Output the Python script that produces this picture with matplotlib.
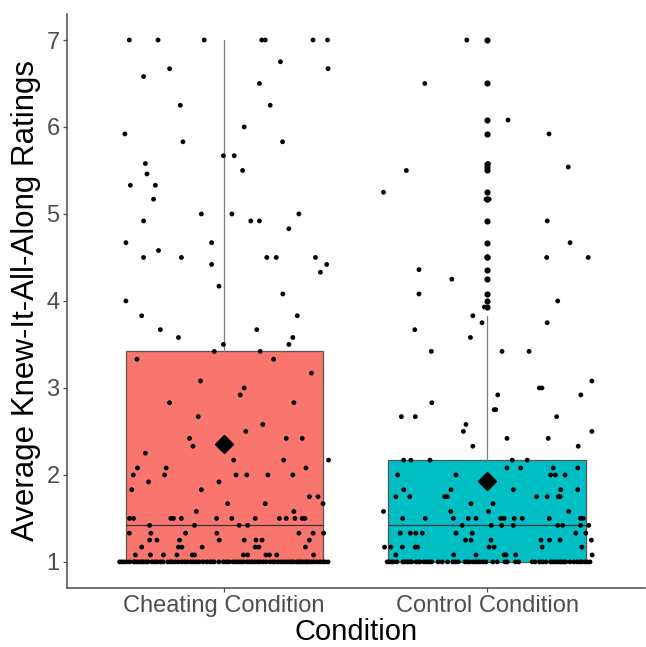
import numpy as np
import matplotlib
matplotlib.use("Agg")
import matplotlib.pyplot as plt

# Average ratings, grouped by rating level.
# Each level has the horizontal jitter offsets (in category units) of its points.
conditions = ["Cheating Condition", "Control Condition"]
box_colors = ["#F8766D", "#00BFC4"]

cheating_levels = [
    7.00, 6.75, 6.67, 6.58, 6.50, 6.25, 6.00, 5.92, 5.83, 5.67, 5.58, 5.50, 5.46, 5.33, 5.17,
    5.00, 4.92, 4.83, 4.67, 4.58, 4.50, 4.42, 4.33, 4.17, 4.08, 4.00, 3.83, 3.67, 3.58,
    3.50, 3.42, 3.33, 3.17, 3.08, 3.00, 2.92, 2.83, 2.67, 2.58, 2.50, 2.42, 2.33, 2.25,
    2.17, 2.08, 2.00, 1.92, 1.83, 1.75, 1.67, 1.58, 1.50, 1.42, 1.33, 1.25, 1.17, 1.08, 1.00,
]
cheating_offsets = [
    [-0.361, -0.252, -0.076, 0.143, 0.156, 0.338, 0.393],
    [0.214], [0.395, -0.208], [-0.307], [0.134], [-0.167, 0.175], [0.076], [-0.378],
    [-0.157, 0.222], [-0.003, 0.038], [-0.300], [0.070], [-0.294], [-0.357, -0.262], [-0.269],
    [-0.087, 0.029, 0.284], [-0.307, 0.101, 0.134], [0.246], [-0.374, -0.048], [-0.250],
    [-0.307, -0.163, 0.162, 0.198, 0.347], [0.390, -0.048], [0.366], [-0.020], [0.223],
    [-0.374], [-0.314, 0.278], [-0.243, 0.124], [-0.174, 0.261],
    [-0.003, 0.246], [-0.038, 0.137], [-0.332, 0.188], [0.332], [-0.090], [0.076], [0.061],
    [-0.208, 0.265], [-0.099], [0.147], [0.082], [-0.132, 0.236, 0.297], [-0.119], [-0.300],
    [0.036, 0.226, 0.397], [-0.330, -0.221, 0.311],
    [-0.346, -0.227, 0.045, 0.086, 0.166, 0.261],
    [-0.288, -0.020], [-0.352, -0.087], [0.324, 0.357], [0.013, 0.156, 0.376], [-0.106, 0.265],
    [-0.360, -0.345, -0.203, -0.193, -0.163, -0.029, 0.029, 0.118, 0.210, 0.236, 0.269, 0.297, 0.307],
    [-0.284, -0.113, 0.057, 0.089],
    [-0.361, -0.279, -0.147, -0.028, 0.284, 0.338, 0.378],
    [-0.284, -0.256, -0.170, -0.019, 0.076, 0.121, 0.144, 0.324],
    [-0.314, -0.174, -0.161, -0.084, 0.118, 0.132, 0.309],
    [-0.338, -0.281, -0.231, -0.180, -0.122, -0.113, 0.073, 0.089, 0.159, 0.172, 0.200, 0.340],
    [-0.398, -0.383, -0.373, -0.345, -0.332, -0.322, -0.313, -0.307, -0.297, -0.275, -0.256,
     -0.243, -0.233, -0.205, -0.198, -0.186, -0.174, -0.161, -0.140, -0.127, -0.117, -0.106,
     -0.094, -0.066, -0.047, -0.038, -0.003, 0.008, 0.033, 0.043, 0.053, 0.073, 0.086, 0.105,
     0.116, 0.137, 0.149, 0.175, 0.185, 0.193, 0.226, 0.248, 0.257, 0.264, 0.276, 0.284, 0.299,
     0.309, 0.322, 0.333, 0.342, 0.354, 0.377, 0.384,
     -0.390, -0.360, -0.340, -0.290, -0.265, -0.215, -0.150, -0.080, -0.055, -0.020, 0.018,
     0.063, 0.095, 0.127, 0.160, 0.205, 0.215, 0.237, 0.290, 0.315, 0.365, 0.395],
]

control_levels = [
    7.00, 6.50, 6.08, 5.92, 5.58, 5.54, 5.50, 5.25, 5.17, 4.92, 4.67, 4.50, 4.36, 4.25, 4.08,
    4.00, 3.93, 3.83, 3.75, 3.67, 3.58, 3.42, 3.08, 3.00, 2.92, 2.83, 2.75, 2.67, 2.58, 2.50,
    2.42, 2.33, 2.17, 2.08, 2.00, 1.83, 1.75, 1.67, 1.58, 1.50, 1.42, 1.33, 1.25, 1.17, 1.08, 1.00,
]
control_offsets = [
    [-0.077], [-0.237], [0.080], [0.236], [0.005], [0.309], [-0.307], [-0.394], [-0.004, 0.008],
    [0.229], [0.316], [0.227, 0.385], [-0.259], [-0.134], [-0.259],
    [0.269], [-0.010], [-0.054], [-0.019, 0.229], [-0.275], [-0.063], [-0.212, 0.057, 0.160],
    [0.399], [0.199, 0.209], [0.041, 0.357], [-0.210], [0.027, 0.033], [-0.326, -0.273, 0.265],
    [-0.080], [-0.090, 0.399],
    [0.076, 0.233], [-0.054, 0.347], [-0.317, -0.290, -0.217, 0.096, 0.153],
    [0.076, 0.128, 0.252, 0.345], [-0.340, -0.118, 0.242, 0.260, 0.297],
    [-0.317, -0.137, 0.100, 0.280, 0.345],
    [-0.347, -0.294, -0.161, -0.151, 0.189, 0.229, 0.271, 0.278],
    [-0.061, 0.023], [-0.394, -0.138, 0.006, 0.311],
    [-0.321, -0.235, -0.128, -0.071, -0.042, 0.052, 0.065, 0.104, 0.134, 0.237, 0.356, 0.366],
    [-0.095, 0.016, 0.056, 0.100, 0.269, 0.288, 0.356, 0.387],
    [-0.330, -0.292, -0.271, -0.246, -0.118, -0.056, 0.338, 0.376],
    [-0.082, -0.061, 0.015, 0.205, 0.238, 0.278, 0.397],
    [-0.390, -0.366, -0.322, -0.273, -0.264, 0.008, 0.027, 0.210, 0.361],
    [-0.347, -0.127, -0.042, 0.065, 0.072, 0.109, 0.400],
    [-0.371, -0.362, -0.356, -0.343, -0.312, -0.303, -0.295, -0.287, -0.270, -0.263, -0.255,
     -0.229, -0.220, -0.211, -0.186, -0.171, -0.130, -0.120, -0.109, -0.084, -0.075, -0.065,
     -0.052, -0.042, -0.033, -0.027, -0.004, 0.022, 0.039, 0.068, 0.077, 0.108, 0.172, 0.183,
     0.212, 0.224, 0.242, 0.259, 0.268, 0.278, 0.285, 0.293, 0.300, 0.316, 0.331, 0.343, 0.354,
     0.361, 0.373, 0.382, 0.392,
     -0.380, -0.320, -0.240, -0.150, -0.015, 0.120, 0.200, 0.250],
]


def expand(levels, offsets):
    ratings = np.concatenate([[lv] * len(off) for lv, off in zip(levels, offsets)])
    jitter = np.concatenate(offsets)
    return ratings, jitter


groups = [expand(cheating_levels, cheating_offsets), expand(control_levels, control_offsets)]

plt.rcParams["font.family"] = ["Liberation Sans", "DejaVu Sans"]
fig = plt.figure(figsize=(6.46, 6.47), dpi=100)
ax = fig.add_axes([0.103, 0.0912, 0.895, 0.8873])

bp = ax.boxplot([g[0] for g in groups], positions=[1, 2], widths=0.75, patch_artist=True,
                whis=1.5, showcaps=False, zorder=1,
                medianprops=dict(color="#333333", lw=0.9),
                whiskerprops=dict(color="#7f7f7f", lw=0.9),
                boxprops=dict(edgecolor="#555555", lw=0.9),
                flierprops=dict(marker="o", markerfacecolor="black", markeredgecolor="black",
                                markersize=3.4, linestyle="none"))
for patch, col in zip(bp["boxes"], box_colors):
    patch.set_facecolor(col)

for i, (ratings, jitter) in enumerate(groups):
    ax.scatter(i + 1 + jitter, ratings, s=12, color="black", edgecolors="none", zorder=3)
    ax.plot(i + 1, ratings.mean(), marker="D", markersize=9.5, color="black", zorder=4)

ax.set_xlim(0.4, 2.6)
ax.set_ylim(0.7, 7.3)
ax.set_xticks([1, 2])
ax.set_xticklabels(conditions)
ax.set_yticks(range(1, 8))
for side in ["top", "right"]:
    ax.spines[side].set_visible(False)
for side in ["left", "bottom"]:
    ax.spines[side].set_color("#4d4d4d")
    ax.spines[side].set_linewidth(1.1)
ax.tick_params(axis="both", colors="#4d4d4d", labelcolor="#4D4D4D", labelsize=17,
               length=3, width=0.9, pad=2)
ax.set_xlabel("Condition", fontsize=21, labelpad=1)
ax.set_ylabel("Average Knew-It-All-Along Ratings", fontsize=22.5, labelpad=4)

fig.savefig("out.png", dpi=100)
